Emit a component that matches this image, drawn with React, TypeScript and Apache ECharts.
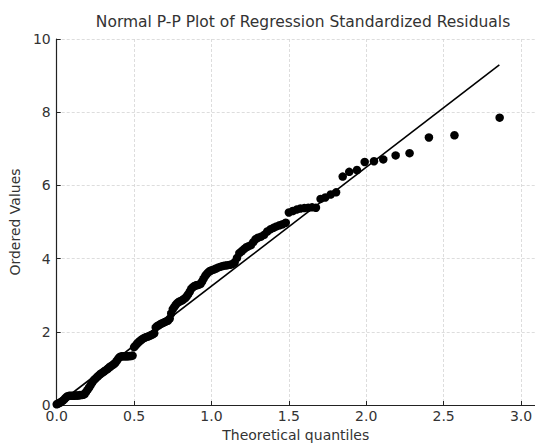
import React, { useEffect, useRef } from "react";
import * as echarts from "echarts";

const titleText = "Normal P-P Plot of Regression Standardized Residuals";
const xAxisName = "Theoretical quantiles";
const yAxisName = "Ordered Values";

// Theoretical quantiles (x) and ordered values (y)
const quantiles = [
  0.0, 0.01, 0.02, 0.03, 0.04, 0.05, 0.06, 0.07, 0.08, 0.09,
  0.1, 0.11, 0.12, 0.13, 0.14, 0.15, 0.16, 0.17, 0.18, 0.19,
  0.2, 0.21, 0.22, 0.23, 0.24, 0.25, 0.26, 0.27, 0.28, 0.29,
  0.3, 0.31, 0.32, 0.33, 0.34, 0.35, 0.36, 0.37, 0.38, 0.39,
  0.4, 0.41, 0.42, 0.43, 0.44, 0.45, 0.46, 0.47, 0.48, 0.49,
  0.5, 0.51, 0.52, 0.53, 0.54, 0.55, 0.56, 0.57, 0.58, 0.59,
  0.6, 0.61, 0.62, 0.63, 0.64, 0.65, 0.66, 0.67, 0.68, 0.69,
  0.7, 0.71, 0.72, 0.73, 0.74, 0.75, 0.76, 0.77, 0.78, 0.79,
  0.8, 0.81, 0.82, 0.83, 0.84, 0.85, 0.86, 0.87, 0.88, 0.89,
  0.9, 0.91, 0.92, 0.93, 0.94, 0.95, 0.96, 0.97, 0.98, 0.99,
  1.0, 1.015, 1.03, 1.045, 1.06, 1.075, 1.09, 1.105, 1.12, 1.135,
  1.15, 1.165, 1.18, 1.195, 1.21, 1.225, 1.24, 1.255, 1.27, 1.285,
  1.3, 1.32, 1.34, 1.36, 1.38, 1.4, 1.42, 1.44, 1.46, 1.48,
  1.5, 1.525, 1.55, 1.575, 1.6, 1.625, 1.65, 1.675,
  1.705, 1.735, 1.77, 1.805, 1.848, 1.89, 1.94, 1.99, 2.05, 2.11,
  2.19, 2.28, 2.405, 2.57, 2.862,
];

const orderedValues = [
  0.02, 0.04, 0.06, 0.09, 0.12, 0.16, 0.21, 0.24, 0.25, 0.25,
  0.25, 0.25, 0.26, 0.26, 0.26, 0.27, 0.27, 0.28, 0.3, 0.36,
  0.42, 0.48, 0.55, 0.62, 0.68, 0.72, 0.76, 0.8, 0.84, 0.87,
  0.9, 0.93, 0.96, 0.99, 1.03, 1.06, 1.09, 1.12, 1.16, 1.22,
  1.28, 1.32, 1.33, 1.33, 1.33, 1.33, 1.33, 1.34, 1.34, 1.35,
  1.58, 1.63, 1.68, 1.72, 1.76, 1.79, 1.82, 1.84, 1.86, 1.87,
  1.89, 1.91, 1.93, 1.96, 2.12, 2.16, 2.18, 2.21, 2.23, 2.25,
  2.27, 2.29, 2.31, 2.36, 2.5, 2.62, 2.68, 2.74, 2.79, 2.82,
  2.84, 2.86, 2.89, 2.92, 2.97, 3.03, 3.1, 3.18, 3.22, 3.25,
  3.27, 3.28, 3.29, 3.31, 3.38, 3.46, 3.53, 3.58, 3.63, 3.66,
  3.68, 3.7, 3.73, 3.76, 3.78, 3.8, 3.81, 3.82, 3.83, 3.85,
  3.9, 4.02, 4.15, 4.2, 4.26, 4.31, 4.34, 4.37, 4.45, 4.53,
  4.57, 4.6, 4.65, 4.74, 4.8, 4.84, 4.88, 4.91, 4.94, 4.98,
  5.26, 5.3, 5.34, 5.37, 5.38, 5.39, 5.4, 5.39,
  5.63, 5.67, 5.75, 5.81, 6.24, 6.37, 6.42, 6.64, 6.66, 6.71,
  6.82, 6.88, 7.31, 7.37, 7.85,
];

// Reference line end points
const fitX = [0, 2.86];
const fitY = [0, 9.29];

const xTicks = [0, 0.5, 1.0, 1.5, 2.0, 2.5, 3.0];
const yTicks = [0, 2, 4, 6, 8, 10];

export default function App() {
  const ref = useRef<HTMLDivElement>(null);

  useEffect(() => {
    if (!ref.current) return;
    const chart = echarts.init(ref.current, null, { renderer: "svg" });
    const font = "DejaVu Sans";
    const textColor = "#333333";
    const gridStyle = { color: "#d4d4d4", width: 0.8, type: [3, 2] as any };

    chart.setOption({
      animation: false,
      backgroundColor: "#ffffff",
      title: {
        text: titleText,
        left: 298,
        top: 9,
        textAlign: "center",
        textStyle: {
          fontFamily: font,
          fontSize: 15.5,
          fontWeight: "normal",
          color: textColor,
        },
      },
      grid: { left: 52, right: -2, top: 39, bottom: 36, containLabel: false },
      xAxis: {
        type: "value",
        min: 0,
        max: 3.089,
        interval: 0.5,
        name: xAxisName,
        nameLocation: "middle",
        nameGap: 23,
        nameTextStyle: { fontFamily: font, fontSize: 14, color: textColor },
        axisLine: { show: true, onZero: false, lineStyle: { color: "#222", width: 1.2 } },
        axisTick: { show: true, inside: true, length: 4, lineStyle: { color: "#222" }, customValues: xTicks },
        axisLabel: {
          fontFamily: font,
          fontSize: 14,
          color: textColor,
          margin: 4,
          customValues: xTicks,
          formatter: (v: number) => v.toFixed(1),
        },
        splitLine: { show: true, lineStyle: gridStyle },
      },
      yAxis: {
        type: "value",
        min: 0,
        max: 10,
        interval: 2,
        name: yAxisName,
        nameLocation: "middle",
        nameGap: 22,
        nameRotate: 90,
        nameTextStyle: { fontFamily: font, fontSize: 14, color: textColor },
        axisLine: { show: true, onZero: false, lineStyle: { color: "#222", width: 1.2 } },
        axisTick: { show: true, inside: true, length: 4, lineStyle: { color: "#222" }, customValues: yTicks },
        axisLabel: {
          fontFamily: font,
          fontSize: 14,
          color: textColor,
          margin: 6,
          customValues: yTicks,
        },
        splitLine: { show: true, lineStyle: gridStyle },
      },
      series: [
        {
          type: "scatter",
          data: quantiles.map((q, i) => [q, orderedValues[i]]),
          symbol: "circle",
          symbolSize: 8.5,
          itemStyle: { color: "#000000", opacity: 1 },
          z: 2,
        },
        {
          type: "line",
          data: fitX.map((x, i) => [x, fitY[i]]),
          symbol: "none",
          lineStyle: { color: "#000000", width: 1.6 },
          z: 3,
        },
      ],
    });

    return () => chart.dispose();
  }, []);

  return (
    <div
      ref={ref}
      style={{ position: "fixed", left: 0, top: 0, width: 535, height: 447, background: "#fff" }}
    />
  );
}
